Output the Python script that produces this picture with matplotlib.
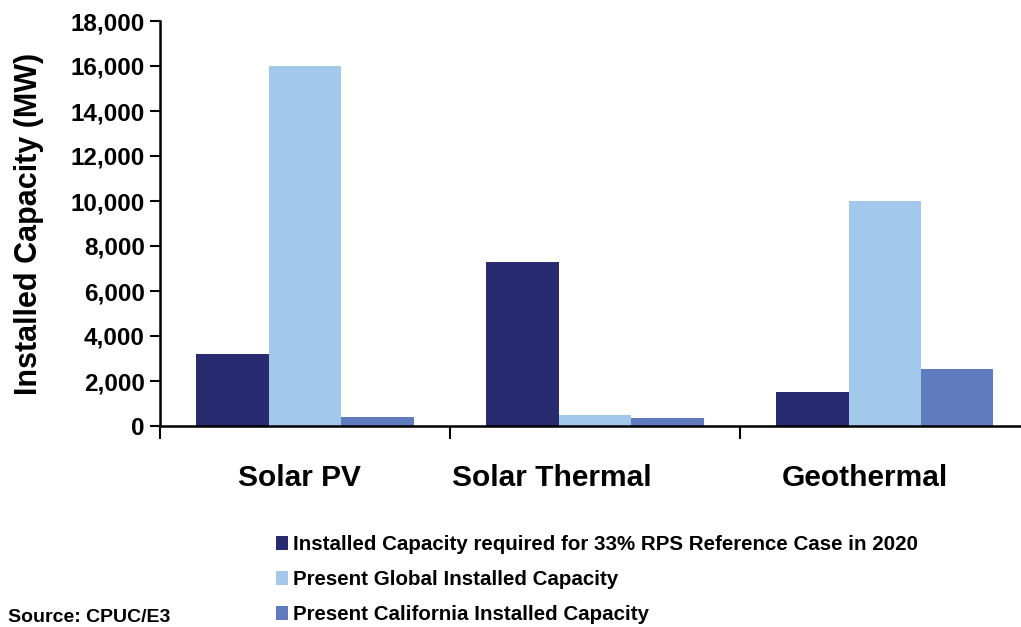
import matplotlib.pyplot as plt
import numpy as np
from matplotlib.patches import Patch

categories = ['Solar PV', 'Solar Thermal', 'Geothermal']
required_2020 = [3200, 7300, 1500]
global_capacity = [16000, 500, 10000]
california_capacity = [400, 350, 2550]
series_labels = [
    'Installed Capacity required for 33% RPS Reference Case in 2020',
    'Present Global Installed Capacity',
    'Present California Installed Capacity',
]
colors = ['#282b70', '#a2c8ec', '#617bbf']
# category labels sit a little left of the group centres
label_shift = [-0.02, -0.15, -0.07]

plt.rcParams['font.family'] = ['Liberation Sans', 'DejaVu Sans']
plt.rcParams['font.weight'] = 'bold'

fig = plt.figure(figsize=(10.21, 6.27), dpi=100)
ax = fig.add_axes([160 / 1021, 1 - 426 / 627, 861 / 1021, 405 / 627])

x = np.arange(len(categories))
w = 0.25
for i, vals in enumerate([required_2020, global_capacity, california_capacity]):
    ax.bar(x + (i - 1) * w, vals, width=w, color=colors[i], label=series_labels[i])

ax.set_xlim(-0.5, 2.47)
ax.set_ylim(0, 18000)
ax.set_yticks(np.arange(0, 18001, 2000))
ax.set_yticklabels([f'{v:,}' for v in range(0, 18001, 2000)], fontsize=17.5, fontweight='bold')
ax.set_xticks([-0.5, 0.5, 1.5])
ax.set_xticklabels([])
ax.tick_params(axis='x', direction='out', length=9, width=1.5)
ax.tick_params(axis='y', direction='out', length=7, width=1.5, pad=4)
for i, c in enumerate(categories):
    ax.text(i + label_shift[i], -2300, c, ha='center', va='center', fontsize=21.5, fontweight='bold')

for s in ['top', 'right']:
    ax.spines[s].set_visible(False)
ax.spines['left'].set_linewidth(1.8)
ax.spines['bottom'].set_linewidth(1.8)

ax.set_ylabel('Installed Capacity (MW)', fontsize=22, fontweight='bold')
ax.yaxis.set_label_coords(-116 / 861, 0.5)

handles = [Patch(facecolor=c) for c in colors]
fig.legend(handles, series_labels, loc='upper left', bbox_to_anchor=(276 / 1021, 1 - 535 / 627),
           frameon=False, fontsize=14.8, handlelength=0.6, handleheight=0.7,
           handletextpad=0.25, labelspacing=0.78, borderpad=0, borderaxespad=0)

fig.text(0.008, 0.002, 'Source: CPUC/E3', ha='left', va='bottom', fontsize=14, fontweight='bold')

fig.savefig('out.png', dpi=100)
